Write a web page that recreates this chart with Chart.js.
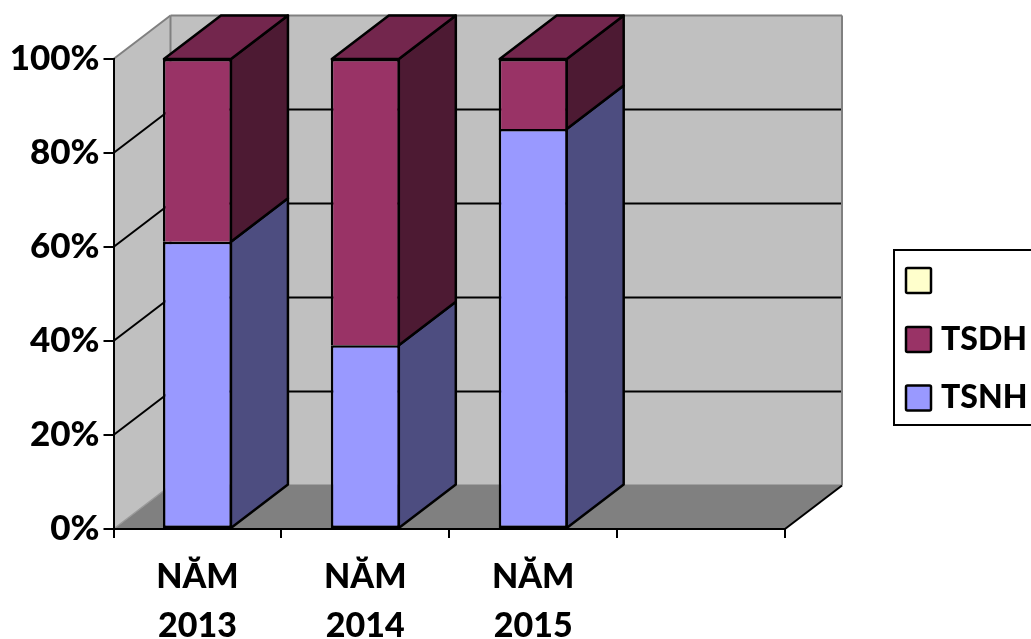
<!DOCTYPE html>
<html>
<head>
<meta charset="utf-8">
<title>TSNH / TSDH</title>
<script src="https://cdn.jsdelivr.net/npm/chart.js@4/dist/chart.umd.min.js"></script>
<style>
  html, body { margin: 0; padding: 0; background: #fff; overflow: hidden; }
  canvas { display: block; }
</style>
</head>
<body>
<canvas id="chart" width="1031" height="639"></canvas>
<script>
// ===== DATA =====
const categories = [['NĂM', '2013'], ['NĂM', '2014'], ['NĂM', '2015'], ''];
const tsnh = [61.1, 39.1, 85.1, null];
const tsdh = [38.9, 60.9, 14.9, null];
const blank = [null, null, null, null];
const seriesNames = ['TSNH', 'TSDH', ''];

// ===== STYLE =====
const FONT = 'Lato, Carlito, "Open Sans", sans-serif';
const DEPTH_X = 57;
const DEPTH_Y = 43.5;
const EDGE = 2.5;
const WALL = '#C0C0C0';
const FLOOR = '#808080';
const faces = [
  { front: '#9999FF', side: '#4D4D80', top: '#73739F' },
  { front: '#993366', side: '#4D1A33', top: '#73264D' },
  { front: '#FFFFCC', side: '#80805F', top: '#BFBF99' }
];

function poly(ctx, pts, fill, stroke, lw) {
  ctx.beginPath();
  pts.forEach((p, i) => (i ? ctx.lineTo(p[0], p[1]) : ctx.moveTo(p[0], p[1])));
  ctx.closePath();
  if (fill) { ctx.fillStyle = fill; ctx.fill(); }
  if (stroke) { ctx.strokeStyle = stroke; ctx.lineWidth = lw || 2; ctx.lineJoin = 'round'; ctx.stroke(); }
}

function line(ctx, x1, y1, x2, y2, color, lw) {
  ctx.beginPath();
  ctx.moveTo(x1, y1);
  ctx.lineTo(x2, y2);
  ctx.strokeStyle = color;
  ctx.lineWidth = lw || 2;
  ctx.stroke();
}

// walls and floor behind the bars
const box3d = {
  id: 'box3d',
  beforeDraw(chart) {
    const { ctx, chartArea: a, scales } = chart;
    const L = a.left, R = a.right, T = a.top, B = a.bottom;
    const dx = DEPTH_X, dy = DEPTH_Y;
    ctx.save();
    poly(ctx, [[L, B], [L + dx, B - dy], [L + dx, T - dy], [L, T]], WALL);
    poly(ctx, [[L + dx, B - dy], [R + dx, B - dy], [R + dx, T - dy], [L + dx, T - dy]], WALL);

    scales.y.ticks.forEach(t => {
      if (t.value === 0 || t.value === 100) return;
      const y = scales.y.getPixelForValue(t.value);
      line(ctx, L, y, L + dx, y - dy, '#000');
      line(ctx, L + dx, y - dy, R + dx, y - dy, '#000');
    });

    // wall outline
    ctx.lineJoin = 'round';
    line(ctx, L, T, L + dx, T - dy, FLOOR);
    line(ctx, L + dx, T - dy, R + dx, T - dy, FLOOR);
    line(ctx, L + dx, T - dy, L + dx, B - dy, FLOOR);
    line(ctx, R + dx, T - dy, R + dx, B - dy, FLOOR);
    line(ctx, L + dx, B - dy, R + dx, B - dy, FLOOR);

    poly(ctx, [[L, B], [R, B], [R + dx, B - dy], [L + dx, B - dy]], FLOOR);
    line(ctx, L, B, L + dx, B - dy, '#9A9A9A', 1.5);
    line(ctx, R, B, R + dx, B - dy, '#000');
    ctx.restore();
  },
  // side and top faces of each stacked segment
  beforeDatasetsDraw(chart) {
    const { ctx } = chart;
    const dx = DEPTH_X, dy = DEPTH_Y;
    ctx.save();
    chart.data.datasets.forEach((ds, i) => {
      chart.getDatasetMeta(i).data.forEach((bar, j) => {
        if (ds.data[j] == null) return;
        const p = bar.getProps(['x', 'y', 'base', 'width'], true);
        const l = p.x - p.width / 2 + 1;
        const r = p.x + p.width / 2 - 1;
        poly(ctx, [[r, p.y], [r + dx, p.y - dy], [r + dx, p.base - dy], [r, p.base]], faces[i].side, '#000', EDGE);
        const isTop = !chart.data.datasets.slice(i + 1).some(o => o.data[j] != null);
        if (isTop) {
          poly(ctx, [[l, p.y], [l + dx, p.y - dy], [r + dx, p.y - dy], [r, p.y]], faces[i].top, '#000', EDGE);
        }
      });
    });
    ctx.restore();
  }
};

// legend box on the right, last series first
const sideLegend = {
  id: 'sideLegend',
  afterDraw(chart) {
    const { ctx } = chart;
    ctx.save();
    ctx.strokeStyle = '#000';
    ctx.lineWidth = 2;
    ctx.strokeRect(894, 250, 160, 175);
    const rows = [280.5, 339.5, 398];
    chart.data.datasets.slice().reverse().forEach((ds, i) => {
      const y = rows[i];
      ctx.beginPath();
      ctx.roundRect(906, y - 12.5, 25, 25, 1.5);
      ctx.fillStyle = ds.backgroundColor;
      ctx.fill();
      ctx.lineWidth = 2.5;
      ctx.stroke();
      ctx.fillStyle = '#000';
      ctx.font = '900 32px ' + FONT;
      ctx.textBaseline = 'middle';
      ctx.fillText(ds.label, 941, y);
    });
    ctx.restore();
  }
};

const datasets = [tsnh, tsdh, blank].map((values, i) => ({
  label: seriesNames[i],
  data: values,
  backgroundColor: faces[i].front,
  borderColor: '#000',
  borderWidth: EDGE,
  borderSkipped: i === 1 ? 'bottom' : false,
  inflateAmount: 0,
  barPercentage: 0.411,
  categoryPercentage: 1,
  clip: false
}));

new Chart(document.getElementById('chart').getContext('2d'), {
  type: 'bar',
  data: { labels: categories, datasets },
  plugins: [box3d, sideLegend],
  options: {
    responsive: false,
    animation: false,
    layout: { padding: { top: 59, right: 246, left: 0, bottom: 0 } },
    plugins: { legend: { display: false }, tooltip: { enabled: false } },
    scales: {
      x: {
        stacked: true,
        afterFit(scale) { scale.height = 110; },
        border: { color: '#000', width: 2 },
        grid: { drawOnChartArea: false, color: '#000', lineWidth: 2, tickLength: 9, tickColor: '#000' },
        ticks: {
          color: '#000',
          maxRotation: 0,
          autoSkip: false,
          padding: 14,
          font: { family: FONT, weight: '900', size: 34, lineHeight: 1.45 }
        }
      },
      y: {
        stacked: true,
        min: 0,
        max: 100,
        afterFit(scale) { scale.width = 113.5; },
        border: { color: '#000', width: 2 },
        grid: { drawOnChartArea: false, color: '#000', lineWidth: 2, tickLength: 10, tickColor: '#000' },
        ticks: {
          stepSize: 20,
          color: '#000',
          padding: 4,
          callback: v => v + '%',
          font: { family: FONT, weight: '900', size: 35 }
        }
      }
    }
  }
});
</script>
</body>
</html>
